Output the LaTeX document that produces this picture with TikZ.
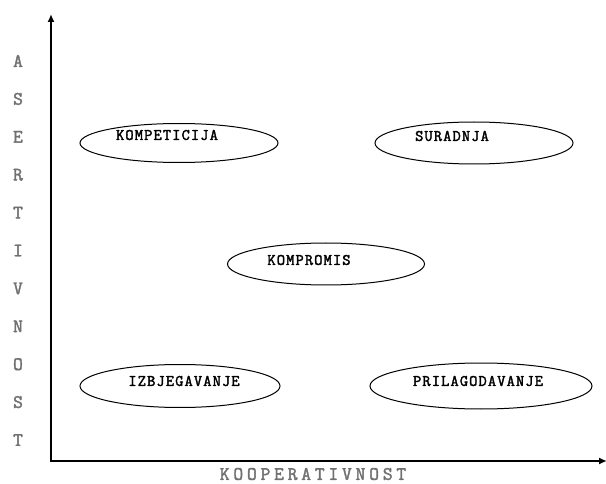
\documentclass[tikz,border=0pt]{standalone}
\usepackage{fontspec}
\usetikzlibrary{shapes.geometric,arrows.meta}
\definecolor{axisgrey}{HTML}{707070}
\newfontfamily\ovalfont{Latin Modern Mono}[LetterSpace=7,FakeBold=2.2]
\newfontfamily\axisfont{Latin Modern Mono}[LetterSpace=20,FakeBold=2]
\tikzset{
  axis/.style={line width=2.8pt, {Latex[length=8pt,width=7pt]}-{Latex[length=8pt,width=7pt]}},
  oval/.style={draw, ellipse, line width=1pt, inner sep=0pt},
  lbl/.style={font=\ovalfont\fontsize{16}{16}\selectfont, inner sep=0pt, text=black},
  axlbl/.style={font=\axisfont\fontsize{19}{19}\selectfont, inner sep=0pt, text=axisgrey},
}
\begin{document}
\begin{tikzpicture}[x=1pt,y=-1pt]
\useasboundingbox (0,0) rectangle (606,484);

% axes
\coordinate (o) at (51,461);
\coordinate (ytop) at (51,14);
\coordinate (xend) at (607,461);
\draw[axis] (ytop) -- (o) -- (xend);

% vertical axis label, one letter per line
\foreach \ch [count=\i from 0] in {A,S,E,R,T,I,V,N,O,S,T}
  \node[axlbl] (v\i) at (18,{61+37.9*\i}) {\ch};

% horizontal axis label
\node[axlbl] (xl) at (313,474) {KOOPERATIVNOST};

% conflict styles
\node[oval, minimum width=198pt, minimum height=39pt] (kompet) at (179,143) {};
\node[lbl] (tkompet) at (167,135) {KOMPETICIJA};

\node[oval, minimum width=198pt, minimum height=42pt] (surad) at (474,143) {};
\node[lbl] (tsurad) at (452,136) {SURADNJA};

\node[oval, minimum width=197pt, minimum height=42pt] (kompro) at (326,264) {};
\node[lbl] (tkompro) at (309,260) {KOMPROMIS};

\node[oval, minimum width=200pt, minimum height=43pt] (izbj) at (180,386) {};
\node[lbl] (tizbj) at (184,381) {IZBJEGAVANJE};

\node[oval, minimum width=222pt, minimum height=46pt] (prilag) at (481,386) {};
\node[lbl] (tprilag) at (478,381) {PRILAGODAVANJE};
\end{tikzpicture}
\end{document}
